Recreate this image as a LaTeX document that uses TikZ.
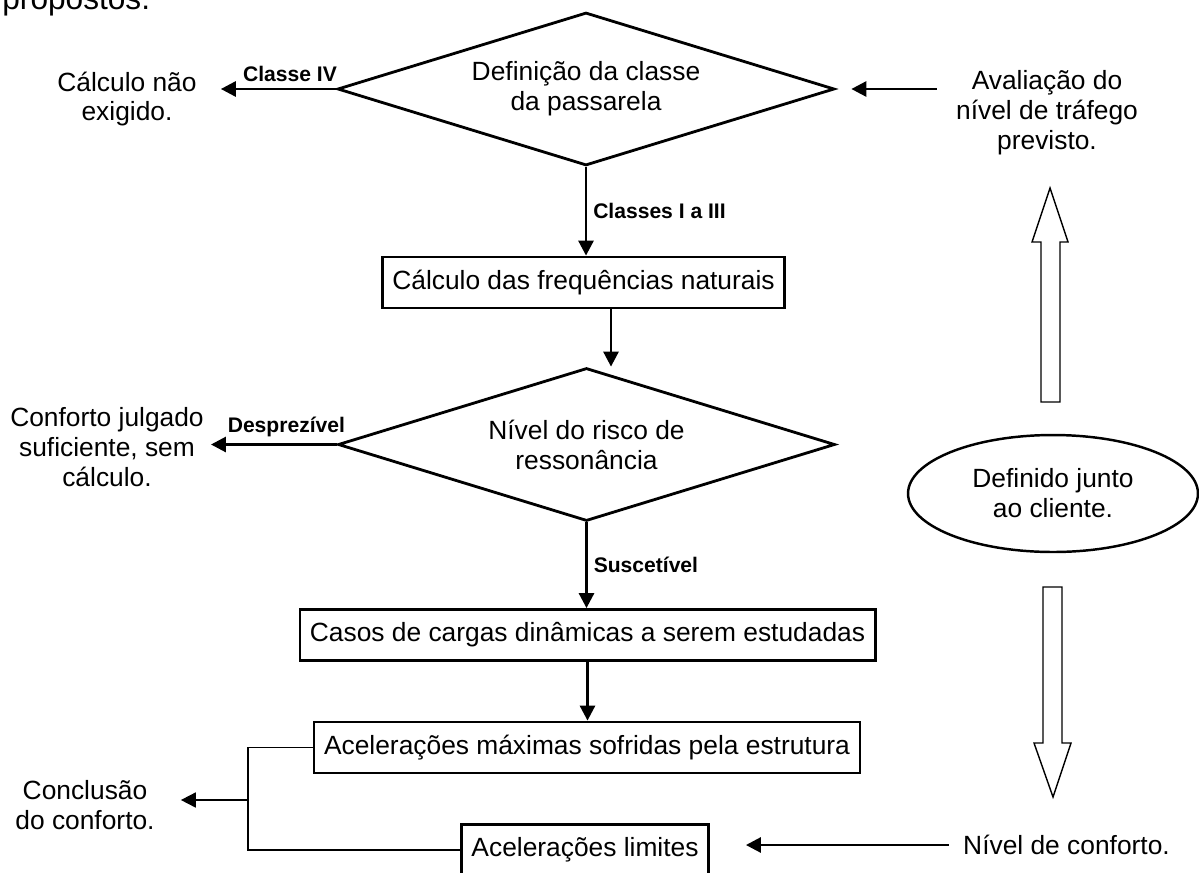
\documentclass[tikz,border=0pt]{standalone}
\usepackage{fontspec}
\setmainfont{Liberation Sans}
\usetikzlibrary{arrows.meta,shapes}

\begin{document}
\begin{tikzpicture}[x=0.02cm,y=-0.02cm,->,>={Triangle[length=0.3cm,width=0.3cm]},line width=1.6pt,
                font=\fontsize{15}{17}\selectfont,
                box/.style={draw=black,minimum height=1.02cm,inner xsep=0.2cm},
                decision/.style={shape=diamond,draw=black,aspect=3.3,inner sep=0pt,minimum width=9.94cm,minimum height=3.06cm,align=center},
                txt/.style={align=center},
                lbl/.style={font=\fontsize{12}{14}\selectfont\bfseries},
                hollow/.style={-,draw=black,line width=0.8pt}]
                \useasboundingbox (0,0) rectangle (1199,872);
                \node[anchor=base west,inner sep=0pt,font=\fontsize{18}{21}\selectfont](Propostos)at(1, 10){propostos.};
                % fluxo principal
                \node[decision](Classe)at(586, 89){Definição da classe\\da passarela};
                \node[box](Freq)at(583.5, 282.5){Cálculo das frequências naturais};
                \node[decision](Risco)at(586.5, 444.5){Nível do risco de\\ressonância};
                \node[box](Casos)at(587.5, 635){Casos de cargas dinâmicas a serem estudadas};
                \node[box](Acel)at(587, 747.5){Acelerações máximas sofridas pela estrutura};
                \node[box](Limites)at(585, 850){Acelerações limites};
                % textos laterais
                \node[txt](NaoExig)at(127, 99){Cálculo não\\exigido.};
                \node[txt](Julgado)at(107, 447){Conforto julgado\\suficiente, sem\\cálculo.};
                \node[txt](Conclusao)at(85, 805){Conclusão\\do conforto.};
                \node[txt](Trafego)at(1047, 113){Avaliação do\\nível de tráfego\\previsto.};
                \node[shape=ellipse,draw=black,line width=1.4pt,minimum width=5.8cm,minimum height=2.34cm,align=center](Cliente)at(1053, 493.5){Definido junto\\ao cliente.};
                \node[txt](Conforto)at(1066.5, 845){Nível de conforto.};
                \coordinate (Juncao) at (248, 800);
                \path[](Classe.south) edge node[lbl,right]{Classes I a III} (Classe.south |- Freq.north)
                (Classe.west) edge node[lbl,above,pos=0.4]{Classe IV} ([xshift=0.34cm]NaoExig.east |- Classe.west)
                ([xshift=0.55cm]Freq.south) edge ([xshift=0.55cm]Freq.south |- Risco.north)
                (Risco.west) edge node[lbl,above,pos=0.4]{Desprezível} (Julgado.east |- Risco.west)
                (Risco.south) edge node[lbl,right]{Suscetível} (Risco.south |- Casos.north)
                (Casos.south) edge (Casos.south |- Acel.north)
                ([xshift=-0.24cm]Trafego.west |- Classe.east) edge ([xshift=0.31cm]Classe.east)
                ([xshift=-0.14cm]Conforto.west) edge ([xshift=0.72cm]Limites.east |- Conforto.west);
                \draw[-,line width=0.75pt] (Acel.west) -| (Juncao) |- (Limites.west);
                \path[line width=1pt] (Juncao) edge ([xshift=0.38cm]Conclusao.east |- Juncao);
                % setas vazadas
                \draw[hollow] (1041, 402) -- (1041, 242) -- (1032, 242) -- (1050, 188) -- (1068, 242) -- (1060, 242) -- (1060, 402) -- cycle;
                \draw[hollow] (1043, 587) -- (1043, 743) -- (1034, 743) -- (1053, 797) -- (1071, 743) -- (1062, 743) -- (1062, 587) -- cycle;
            \end{tikzpicture}
\end{document}
